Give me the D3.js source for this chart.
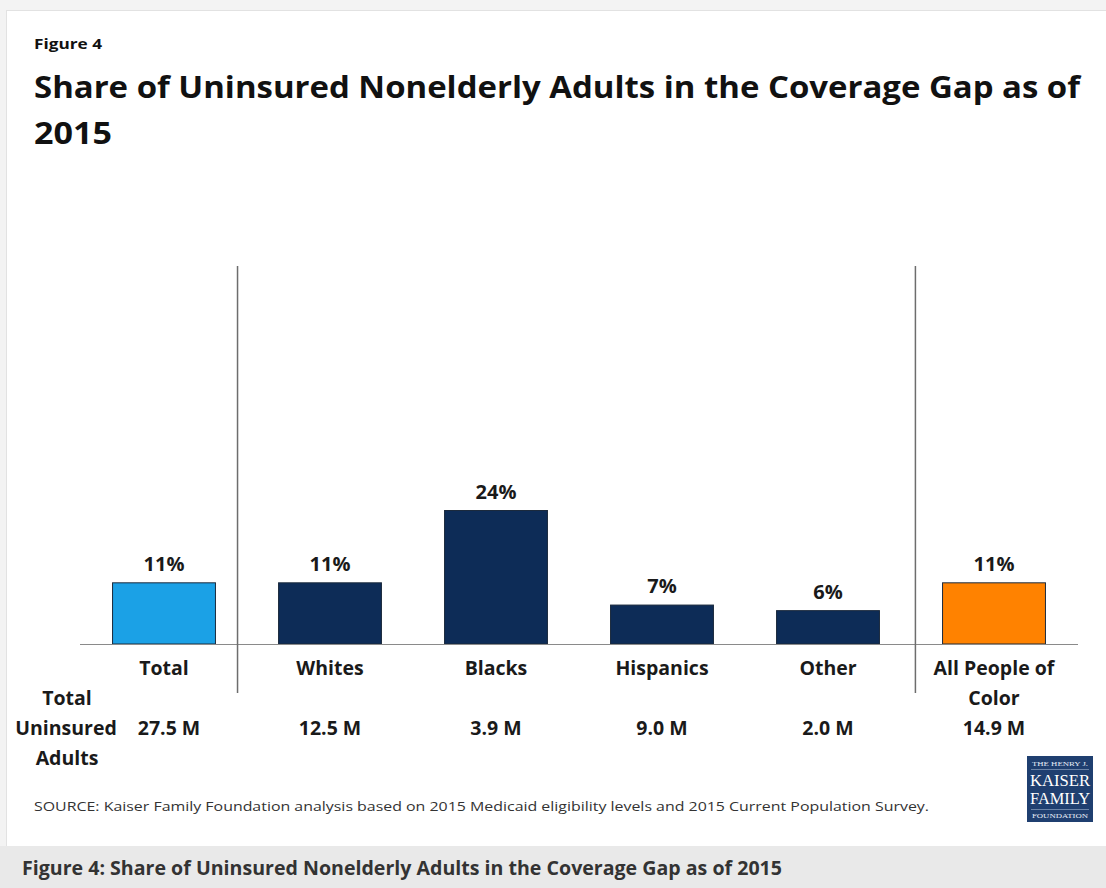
<!DOCTYPE html>
<html>
<head>
<meta charset="utf-8">
<script src="https://cdn.jsdelivr.net/npm/d3@7"></script>
<style>
  html, body { margin: 0; padding: 0; background: #fff; }
  svg { display: block; }
  text { font-family: "Open Sans", "DejaVu Sans", sans-serif; }
</style>
</head>
<body>
<svg id="chart" width="1106" height="888"></svg>
<script>
const categories = ["Total", "Whites", "Blacks", "Hispanics", "Other", "All People of Color"];
const categoryLines = [["Total"], ["Whites"], ["Blacks"], ["Hispanics"], ["Other"], ["All People of", "Color"]];
const shareValues = [11, 11, 24, 7, 6, 11];
const shareLabels = ["11%", "11%", "24%", "7%", "6%", "11%"];
const uninsuredLabels = ["27.5 M", "12.5 M", "3.9 M", "9.0 M", "2.0 M", "14.9 M"];
const barColors = ["#1ba1e6", "#0d2c57", "#0d2c57", "#0d2c57", "#0d2c57", "#ff8200"];
const separatorsAfter = ["Total", "Other"];

const svg = d3.select("#chart");

// card background and frame
svg.append("rect").attr("x", 0).attr("y", 0).attr("width", 1106).attr("height", 888).attr("fill", "#fff");
svg.append("rect").attr("x", 0).attr("y", 0).attr("width", 1106).attr("height", 10).attr("fill", "#f3f3f3");
svg.append("rect").attr("x", 0).attr("y", 0).attr("width", 6).attr("height", 848).attr("fill", "#f3f3f3");
svg.append("line").attr("x1", 6).attr("x2", 1106).attr("y1", 10.5).attr("y2", 10.5).attr("stroke", "#e2e2e2");
svg.append("line").attr("x1", 6.5).attr("x2", 6.5).attr("y1", 10).attr("y2", 848).attr("stroke", "#e2e2e2");

// caption bar
svg.append("rect").attr("x", 0).attr("y", 846).attr("width", 1106).attr("height", 42).attr("fill", "#e9e9e9");
svg.append("text").attr("x", 22).attr("y", 875)
  .attr("font-size", 19).attr("font-weight", 700).attr("fill", "#333")
  .attr("textLength", 760).attr("lengthAdjust", "spacingAndGlyphs")
  .text("Figure 4: Share of Uninsured Nonelderly Adults in the Coverage Gap as of 2015");

// headings
svg.append("text").attr("x", 34).attr("y", 49).attr("font-size", 15).attr("font-weight", 700).attr("fill", "#111")
  .attr("textLength", 68).attr("lengthAdjust", "spacingAndGlyphs").text("Figure 4");
svg.append("text").attr("x", 34).attr("y", 98).attr("font-size", 31).attr("font-weight", 700).attr("fill", "#111")
  .attr("textLength", 1046).attr("lengthAdjust", "spacingAndGlyphs")
  .text("Share of Uninsured Nonelderly Adults in the Coverage Gap as of");
svg.append("text").attr("x", 34).attr("y", 144).attr("font-size", 31).attr("font-weight", 700).attr("fill", "#111")
  .attr("textLength", 78).attr("lengthAdjust", "spacingAndGlyphs").text("2015");

// scales
const x = d3.scaleBand().domain(categories).range([81, 1077]).paddingInner(0.38).paddingOuter(0.19);
const baseline = 644;
const y = d3.scaleLinear().domain([0, 24]).range([baseline, 510.5]);

// bars
svg.append("g").selectAll("rect").data(categories).join("rect")
  .attr("x", d => x(d))
  .attr("width", x.bandwidth())
  .attr("y", (d, i) => y(shareValues[i]))
  .attr("height", (d, i) => baseline - y(shareValues[i]))
  .attr("fill", (d, i) => barColors[i])
  .attr("stroke", "#1b2a3d").attr("stroke-width", 1);

// baseline
svg.append("line").attr("x1", 80).attr("x2", 1078).attr("y1", baseline + 0.5).attr("y2", baseline + 0.5)
  .attr("stroke", "#8a8a8a").attr("stroke-width", 1);

// separators (placed within the gap after the given category)
const gap = x.step() - x.bandwidth();
const sepFrac = [0.35, 0.57];
svg.append("g").selectAll("line").data(separatorsAfter).join("line")
  .attr("x1", (d, i) => x(d) + x.bandwidth() + gap * sepFrac[i])
  .attr("x2", (d, i) => x(d) + x.bandwidth() + gap * sepFrac[i])
  .attr("y1", 266).attr("y2", 693)
  .attr("stroke", "#6d6d6d").attr("stroke-width", 1.5);

// value labels
svg.append("g").selectAll("text").data(categories).join("text")
  .attr("x", d => x(d) + x.bandwidth() / 2)
  .attr("y", (d, i) => y(shareValues[i]) - 12)
  .attr("text-anchor", "middle").attr("font-size", 20).attr("font-weight", 700).attr("fill", "#1a1a1a")
  .text((d, i) => shareLabels[i]);

// category labels
const catG = svg.append("g");
categories.forEach((c, i) => {
  categoryLines[i].forEach((ln, j) => {
    catG.append("text")
      .attr("x", x(c) + x.bandwidth() / 2)
      .attr("y", 675 + j * 30)
      .attr("text-anchor", "middle").attr("font-size", 19.5).attr("font-weight", 700).attr("fill", "#1a1a1a")
      .text(ln);
  });
});

// uninsured counts row
svg.append("g").selectAll("text").data(categories).join("text")
  .attr("x", d => x(d) + x.bandwidth() / 2 + (d === "Total" ? 5 : 0))
  .attr("y", 735)
  .attr("text-anchor", "middle").attr("font-size", 19.5).attr("font-weight", 700).attr("fill", "#1a1a1a")
  .text((d, i) => uninsuredLabels[i]);

// row header
["Total", "Uninsured", "Adults"].forEach((t, j) => {
  svg.append("text").attr("x", t === "Uninsured" ? 66 : 67).attr("y", 705 + j * 30)
    .attr("text-anchor", "middle").attr("font-size", 19.5).attr("font-weight", 700).attr("fill", "#1a1a1a")
    .text(t);
});

// source
svg.append("text").attr("x", 34).attr("y", 811).attr("font-size", 13.5).attr("fill", "#333")
  .attr("textLength", 895).attr("lengthAdjust", "spacingAndGlyphs")
  .text("SOURCE: Kaiser Family Foundation analysis based on 2015 Medicaid eligibility levels and 2015 Current Population Survey.");

// logo
const logo = svg.append("g").attr("transform", "translate(1027,756)");
logo.append("rect").attr("width", 66).attr("height", 66).attr("fill", "#1f3f70");
const serif = "'Liberation Serif', 'DejaVu Serif', serif";
logo.append("text").attr("x", 33).attr("y", 10).attr("text-anchor", "middle").style("font-family", serif)
  .attr("font-size", 6.5).attr("fill", "#e8eef7").attr("textLength", 56).attr("lengthAdjust", "spacingAndGlyphs").text("THE HENRY J.");
logo.append("line").attr("x1", 4).attr("x2", 62).attr("y1", 13.5).attr("y2", 13.5).attr("stroke", "#9fb3cf").attr("stroke-width", 0.6);
logo.append("text").attr("x", 33).attr("y", 30).attr("text-anchor", "middle").style("font-family", serif)
  .attr("font-size", 16).attr("fill", "#fff").attr("textLength", 60).attr("lengthAdjust", "spacingAndGlyphs").text("KAISER");
logo.append("text").attr("x", 33).attr("y", 48).attr("text-anchor", "middle").style("font-family", serif)
  .attr("font-size", 16).attr("fill", "#fff").attr("textLength", 60).attr("lengthAdjust", "spacingAndGlyphs").text("FAMILY");
logo.append("line").attr("x1", 4).attr("x2", 62).attr("y1", 53.5).attr("y2", 53.5).attr("stroke", "#9fb3cf").attr("stroke-width", 0.6);
logo.append("text").attr("x", 33).attr("y", 62).attr("text-anchor", "middle").style("font-family", serif)
  .attr("font-size", 6.5).attr("fill", "#e8eef7").attr("textLength", 56).attr("lengthAdjust", "spacingAndGlyphs").text("FOUNDATION");
</script>
</body>
</html>
